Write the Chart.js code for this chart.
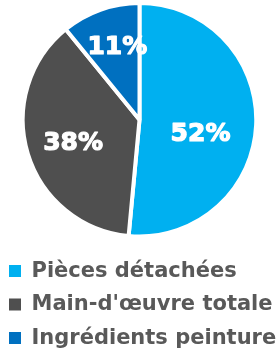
<!DOCTYPE html>
<html lang="fr">
<head>
    <meta charset="UTF-8">
    <title>Répartition des coûts</title>
    <script src="https://cdn.jsdelivr.net/npm/chart.js"></script>
    <style>
        html, body {
            margin: 0;
            padding: 0;
            background: #fff;
        }

        .chart-box {
            width: 279px;
            height: 354px;
        }
    </style>
</head>
<body>
    <div class="chart-box">
        <canvas id="repartition"></canvas>
    </div>

    <script>
        const categories = ['Pièces détachées', "Main-d'œuvre totale", 'Ingrédients peinture'];
        const pourcentages = [52, 38, 11];
        const couleurs = ['#00B0F0', '#4F4F4F', '#0070C0'];

        // petits décalages pour les étiquettes dans les parts
        const decalages = [[-2, 12], [-6, 5.5], [-1, -12.5]];

        const etiquettesParts = {
            id: 'etiquettesParts',
            afterDatasetsDraw(chart) {
                const ctx = chart.ctx;
                const meta = chart.getDatasetMeta(0);
                ctx.save();
                ctx.fillStyle = '#fff';
                ctx.strokeStyle = '#fff';
                ctx.lineWidth = 1.2;
                ctx.lineJoin = 'round';
                ctx.font = 'bold 25px "DejaVu Sans", Verdana, sans-serif';
                ctx.textAlign = 'center';
                ctx.textBaseline = 'middle';
                meta.data.forEach((arc, i) => {
                    const p = arc.getProps(['x', 'y', 'startAngle', 'endAngle', 'outerRadius'], true);
                    const angle = (p.startAngle + p.endAngle) / 2;
                    const r = (p.outerRadius - 2) * 0.55;
                    const x = p.x + Math.cos(angle) * r + decalages[i][0];
                    const y = p.y + Math.sin(angle) * r + decalages[i][1];
                    ctx.strokeText(pourcentages[i] + '%', x, y);
                    ctx.fillText(pourcentages[i] + '%', x, y);
                });
                ctx.restore();
            }
        };

        new Chart(document.getElementById('repartition'), {
            type: 'pie',
            data: {
                labels: categories,
                datasets: [{
                    data: pourcentages,
                    backgroundColor: couleurs,
                    borderColor: '#fff',
                    borderWidth: 4
                }]
            },
            options: {
                responsive: true,
                maintainAspectRatio: false,
                animation: false,
                layout: {
                    padding: { top: 1, bottom: -4.6, left: -3.5, right: -2.5 }
                },
                plugins: {
                    tooltip: { enabled: false },
                    legend: {
                        position: 'bottom',
                        align: 'start',
                        title: {
                            display: true,
                            text: '',
                            padding: 0,
                            font: { size: 8, lineHeight: 1.2 }
                        },
                        labels: {
                            boxWidth: 12,
                            boxHeight: 12,
                            padding: 12.5,
                            color: '#595959',
                            font: {
                                family: '"DejaVu Sans", Verdana, sans-serif',
                                size: 21,
                                weight: 'bold'
                            },
                            generateLabels(chart) {
                                const base = Chart.overrides.pie.plugins.legend.labels.generateLabels(chart);
                                return base.map(item => ({ ...item, lineWidth: 0, strokeStyle: item.fillStyle }));
                            }
                        }
                    }
                }
            },
            plugins: [etiquettesParts]
        });
    </script>
</body>
</html>
